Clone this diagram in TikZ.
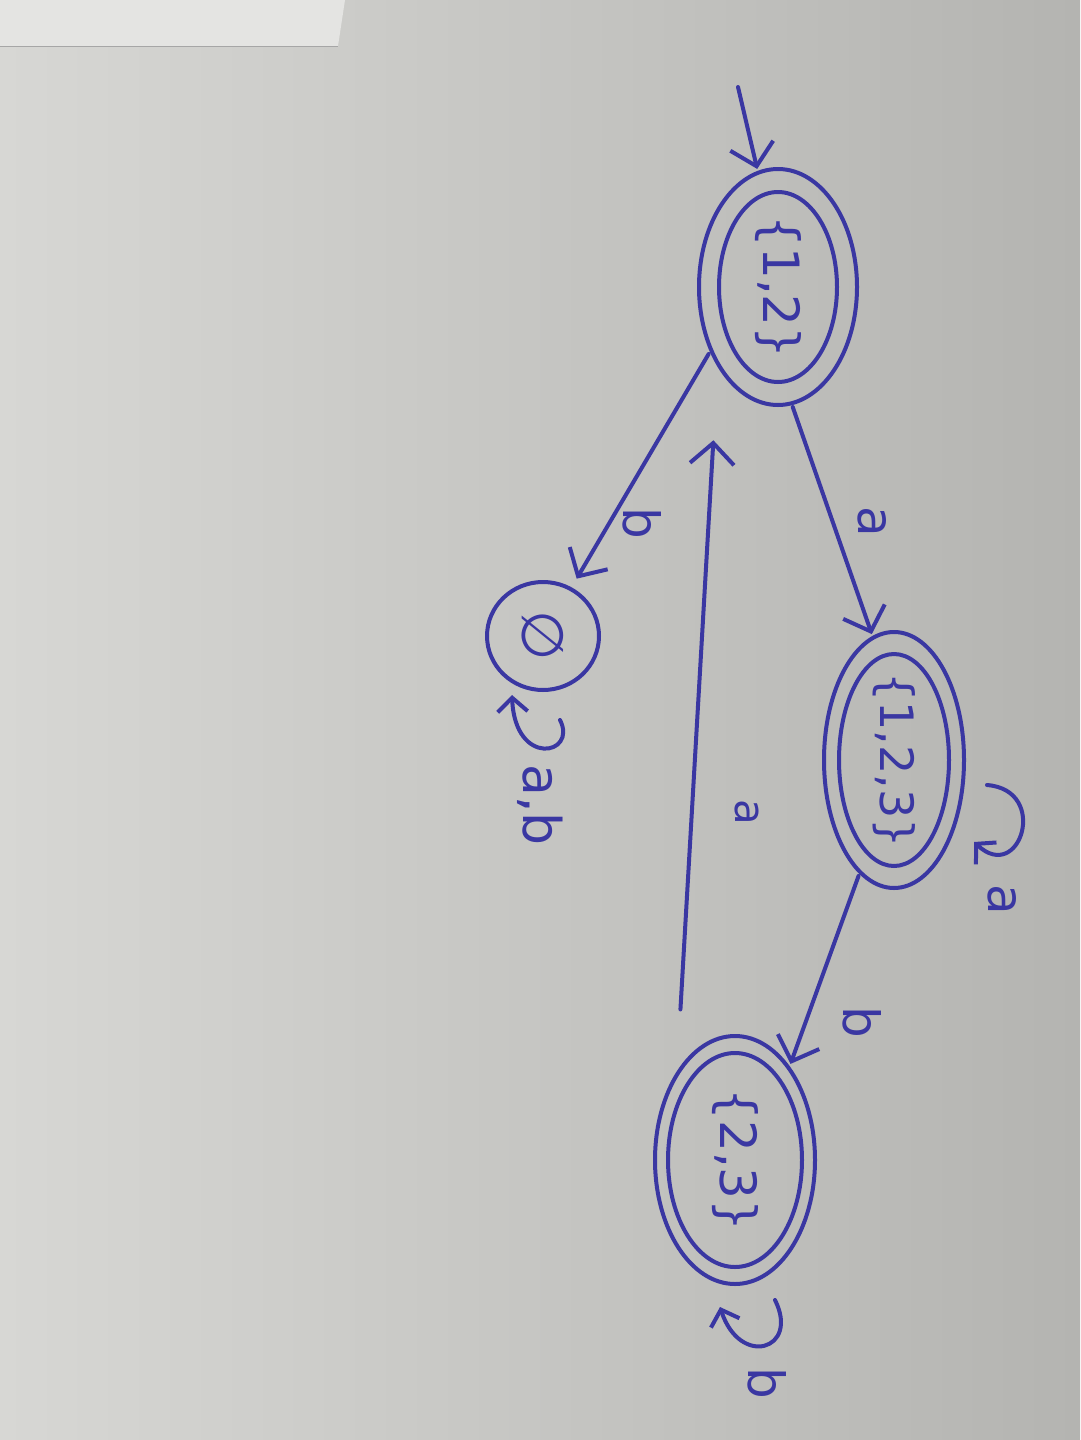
\documentclass[tikz,border=0pt]{standalone}
\usepackage{fontspec}
\usepackage{graphicx}
\setmainfont{DejaVu Sans}
\usetikzlibrary{arrows.meta,shapes.geometric}
\definecolor{penc}{HTML}{3A37A2}
\definecolor{paperL}{HTML}{D7D7D4}
\definecolor{paperR}{HTML}{B4B4B1}
\definecolor{stripc}{HTML}{E4E4E2}
\newcommand{\rt}[2][50]{\rotatebox{-90}{\fontsize{#1}{#1}\selectfont #2}}
\begin{document}
\begin{tikzpicture}[x=1pt,y=-1pt,
  pen/.style={draw=penc,line width=4pt,line cap=round,line join=round},
  tip/.style={-{Straight Barb[length=21pt,width=44pt]}},
  looptip/.style={-{Straight Barb[length=14pt,width=30pt]}},
  statebox/.style={ellipse,pen,inner sep=0pt,outer sep=4pt,text=penc},
  lab/.style={inner sep=0pt,text=penc}]
\useasboundingbox (0,0) rectangle (1080,1440);
\shade[left color=paperL,right color=paperR] (0,0) rectangle (1080,1440);
\fill[stripc] (0,0) -- (345,0) -- (338,46) -- (0,46) -- cycle;
\draw[gray!70,line width=1pt] (0,46) -- (338,46);

% states (outer ellipses are the nodes)
\node[statebox,minimum width=158pt,minimum height=236pt] (q12) at (778,287) {\rt{\{1,2\}}};
\node[statebox,minimum width=140pt,minimum height=256pt] (q123) at (894,760) {\rt[46]{\{1,2,3\}}};
\node[statebox,minimum width=160pt,minimum height=248pt] (q23) at (735,1160) {\rt{\{2,3\}}};
\node[statebox,minimum width=112pt,minimum height=108pt] (q0) at (543,636) {\rt[58]{∅}};

% inner ellipses (accepting states)
\draw[pen] (q12.center) ellipse [x radius=59,y radius=95];
\draw[pen] (q123.center) ellipse [x radius=55,y radius=106];
\draw[pen] (q23.center) ellipse [x radius=67,y radius=107];

% start arrow
\coordinate (st) at (738,87);
\draw[pen,tip] (st) -- (q12.100);

% transitions
\draw[pen,tip,shorten >=8pt] (q12.224) -- (q0);
\draw[pen,tip] (q12.277) -- (q123.100);
\draw[pen,tip,shorten <=58pt,shorten >=70pt] (q23.122) -- (q12.234);
\draw[pen,tip] (q123.253) -- (q23.60);

% self loops
\coordinate (l1s) at (987,785);  \coordinate (l1e) at (974,842);
\draw[pen,looptip] (l1s) .. controls (1050,790) and (1020,885) .. (l1e);
\coordinate (l0s) at (560,720);  \coordinate (l0e) at (512,695);
\draw[pen,looptip] (l0s) .. controls (578,755) and (515,768) .. (l0e);
\coordinate (l2s) at (775,1300); \coordinate (l2e) at (720,1307);
\draw[pen,looptip] (l2s) .. controls (800,1350) and (740,1368) .. (l2e);

% labels
\node[lab] (lb1) at (642,523) {\rt{b}};
\node[lab] (la1) at (872,522) {\rt{a}};
\node[lab] (la2) at (747,812) {\rt[42]{a}};
\node[lab] (lb2) at (862,1022) {\rt{b}};
\node[lab] (la3) at (1002,900) {\rt{a}};
\node[lab] (lab0) at (540,805) {\rt[52]{a,b}};
\node[lab] (lb3) at (767,1383) {\rt{b}};
\end{tikzpicture}
\end{document}
